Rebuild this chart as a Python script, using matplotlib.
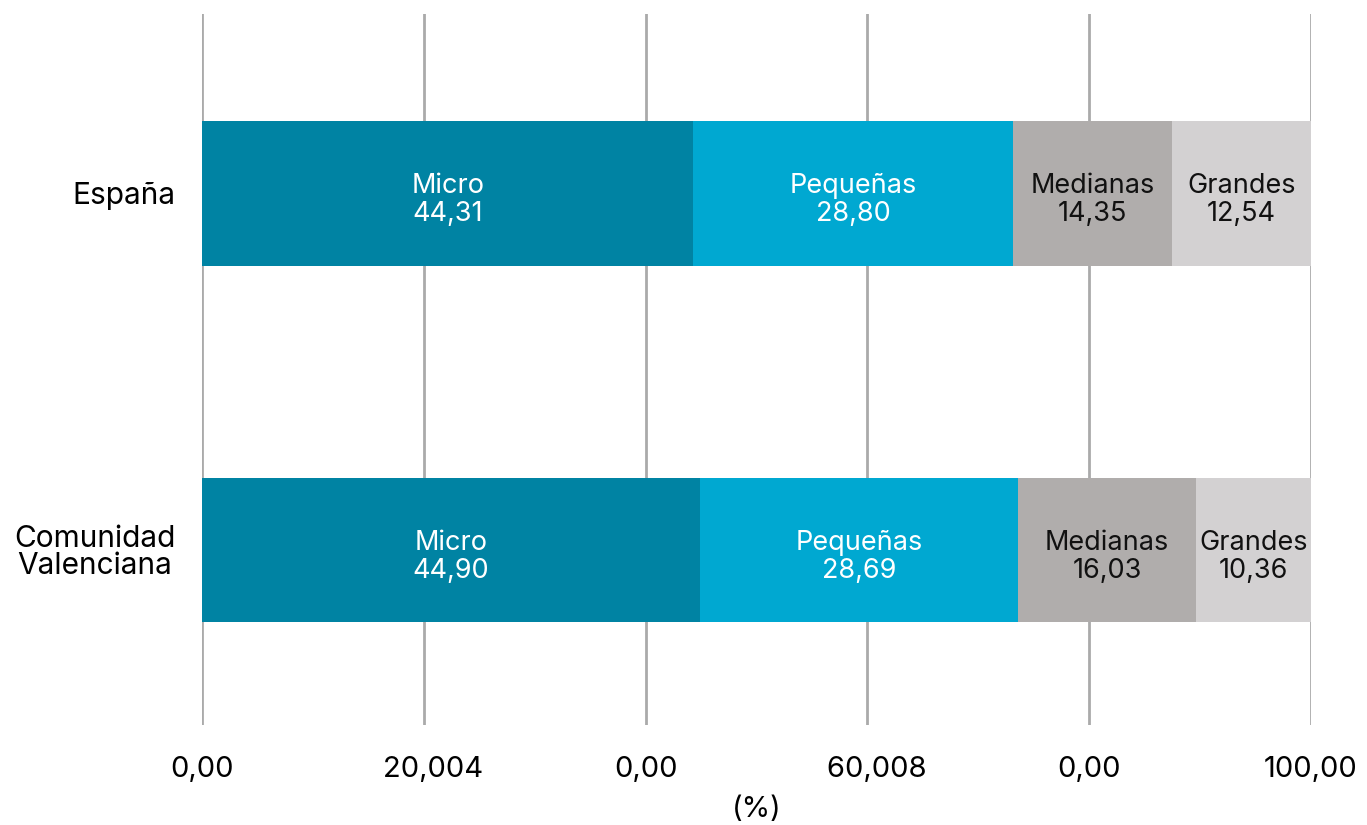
import matplotlib
matplotlib.use("Agg")
import matplotlib.pyplot as plt

regions = ["España", "Comunidad\nValenciana"]
sizes = ["Micro", "Pequeñas", "Medianas", "Grandes"]
micro = [44.31, 44.90]
pequenas = [28.80, 28.69]
medianas = [14.35, 16.03]
grandes = [12.54, 10.36]
series = [micro, pequenas, medianas, grandes]
colors = ["#0083a3", "#00a8d1", "#b0adac", "#d3d1d2"]
text_colors = ["white", "white", "#111111", "#111111"]
tick_values = [0, 20, 40, 60, 80, 100]
tick_labels = ["0,00", "20,004", "0,00", "60,008", "0,00", "100,00"]

plt.rcParams["font.family"] = ["Inter", "DejaVu Sans"]

fig = plt.figure(figsize=(13.67, 8.25), dpi=100)
ax = fig.add_axes([0.1478, 0.1212, 0.8112, 0.8618])

ypos = list(range(len(regions)))
left = [0.0] * len(regions)
for name, vals, col, tcol in zip(sizes, series, colors, text_colors):
    ax.barh(ypos, vals, left=left, height=0.405, color=col, zorder=2)
    for y, l, v in zip(ypos, left, vals):
        ax.text(l + v / 2, y + 0.018, f"{name}\n{v:.2f}".replace(".", ","),
                ha="center", va="center", color=tcol, fontsize=19.5,
                linespacing=1.1, zorder=3)
    left = [a + b for a, b in zip(left, vals)]

# labels with a trailing extra digit keep the "xx,00" part centred on the tick
shown = ["\u2007" + t if len(t.split(",")[1]) > 2 else t for t in tick_labels]

ax.set_xlim(0, 100)
ax.set_ylim(1.49, -0.503)
ax.set_xticks(tick_values)
ax.set_xticklabels(shown, fontsize=21)
ax.set_yticks(ypos)
ax.set_yticklabels(regions, fontsize=21.5)
for t in ax.get_yticklabels():
    t.set_multialignment("center")
    t.set_linespacing(0.95)
ax.tick_params(axis="x", length=0, pad=22)
ax.tick_params(axis="y", length=0, pad=19)
ax.xaxis.grid(True, color="#aaaaaa", linewidth=2, zorder=0)
ax.set_axisbelow(True)
for s in ax.spines.values():
    s.set_visible(False)
ax.set_xlabel("(%)", fontsize=21, labelpad=10)

fig.savefig("out.png", dpi=100, facecolor="white")
